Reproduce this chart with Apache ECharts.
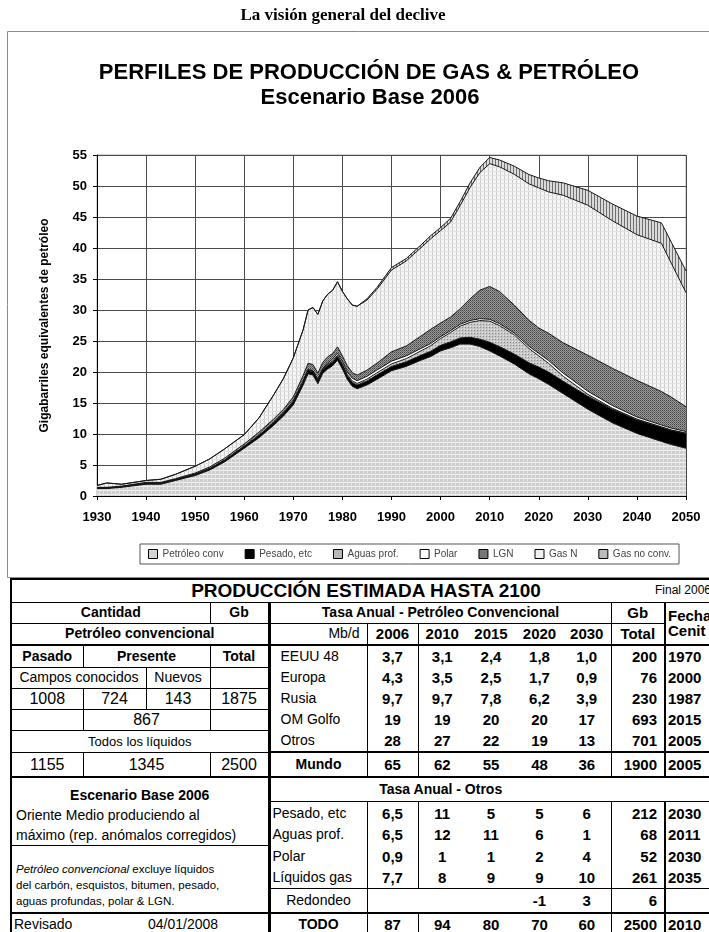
<!DOCTYPE html>
<html>
<head>
<meta charset="utf-8">
<script src="https://cdn.jsdelivr.net/npm/echarts@6/dist/echarts.min.js"></script>
<style>
  html, body { margin: 0; padding: 0; width: 709px; height: 932px; overflow: hidden; background: #fff; }
  #chart { position: absolute; left: 0; top: 0; width: 709px; height: 932px; }
  #tabla {
    position: absolute; left: 10px; top: 578px; width: 710px;
    border-collapse: collapse; table-layout: fixed; border: 2px solid #000;
    font-family: 'Liberation Sans', Arial, sans-serif; font-size: 14px; color: #000;
    background: #fff;
  }
  #tabla td { padding: 0 2px; white-space: nowrap; overflow: hidden; line-height: 15px; vertical-align: middle; }
  #final { position: absolute; left: 655px; top: 583px; white-space: nowrap; font: 12px 'Liberation Sans', Arial, sans-serif; }
  .b { font-weight: bold; }
  .c { text-align: center; }
  .r { text-align: right; padding-right: 7px !important; }
  .l { text-align: left; }
  .pl { padding-left: 10px !important; }
  .n { font-size: 16px; }
  .v { font-size: 15px; }
  .tt { font-size: 19px; }
  .sm { font-size: 13px; }
  .bl1 { border-left: 1px solid #000; }
  .bl2 { border-left: 2px solid #000; }
  .bl3 { border-left: 3px solid #000; }
  .bt1 { border-top: 1px solid #000; }
  .bt2 { border-top: 2px solid #000; }
  .bb1 { border-bottom: 1px solid #000; }
  .bb2 { border-bottom: 2px solid #000; }
  .box { vertical-align: top !important; white-space: normal !important; padding: 7px 4px 0 4px !important; line-height: 20px !important; }
  .nota { vertical-align: bottom !important; white-space: normal !important; font-size: 11.5px; line-height: 16px !important; padding: 0 4px 3px 4px !important; }
</style>
</head>
<body>
<div id="chart"></div>
<table id="tabla"></table>
<div id="final">Final 2006</div>
<script>
// años y series (Gb equivalentes por año)
const years = [1930,1932,1935,1940,1943,1946,1950,1953,1956,1960,1963,1966,1968,1970,1972,1973,1974,1975,1976,1977,1978,1979,1980,1981,1982,1983,1985,1987,1990,1993,1996,1998,2000,2002,2004,2006,2008,2010,2012,2015,2018,2020,2022,2025,2030,2035,2040,2045,2047,2050];
const convOil = [1.2,1.2,1.4,1.9,1.9,2.5,3.3,4.2,5.5,7.7, 9.4,11.4,12.9,14.7,17.9,19.7,19.5,18.1,19.8,20.5, 21.0,21.9,20.5,18.8,17.7,17.3,17.9,18.8,20.2,20.9, 21.9,22.5,23.4,23.9,24.5,24.5,24.1,23.4,22.6,21.3, 19.7,18.9,18.0,16.5,14.0,11.8,10.1,8.8,8.3,7.7];
const heavy = [0.1,0.1,0.1,0.15,0.15,0.15,0.2,0.2,0.25,0.3, 0.35,0.4,0.45,0.5,0.5,0.55,0.55,0.55,0.55,0.6, 0.6,0.6,0.6,0.6,0.6,0.6,0.65,0.7,0.7,0.75, 0.8,0.85,0.9,0.95,1.0,1.1,1.2,1.4,1.5,1.6, 1.8,1.9,2.0,2.0,2.1,2.2,2.2,2.3,2.3,2.4];
const deepWater = [0,0,0,0,0,0,0,0,0,0, 0,0.02,0.03,0.05,0.08,0.1,0.1,0.1,0.12,0.15, 0.18,0.2,0.2,0.2,0.25,0.25,0.3,0.35,0.4,0.5, 0.7,0.9,1.1,1.5,1.9,2.4,3.0,3.4,3.4,3.1, 2.3,1.8,1.4,0.8,0.3,0.15,0.1,0.05,0.05,0.05];
const polar = [0,0,0,0,0,0,0,0,0,0, 0,0,0,0.05,0.05,0.05,0.05,0.05,0.1,0.2, 0.3,0.35,0.4,0.4,0.45,0.45,0.45,0.45,0.45,0.45, 0.4,0.35,0.3,0.3,0.3,0.3,0.3,0.3,0.3,0.3, 0.35,0.4,0.45,0.5,0.5,0.45,0.35,0.3,0.3,0.25];
const ngl = [0.1,0.1,0.1,0.15,0.15,0.15,0.2,0.3,0.35,0.4, 0.55,0.6,0.6,0.7,0.9,1.0,1.0,1.0,1.0,1.0, 0.9,1.0,0.9,1.0,0.9,0.9,1.0,1.1,1.5,1.6, 2.0,2.3,2.2,2.2,2.5,3.5,4.6,5.3,5.2,4.5, 4.2,4.1,4.4,4.9,5.8,6.0,5.9,5.4,5.0,4.0];
const gasN = [0.3,0.7,0.3,0.3,0.5,0.7,1.1,1.3,1.5,1.5, 2.3,3.9,5.0,6.3,7.4,8.6,9.2,9.5,9.9,10.1, 10.2,10.5,10.4,10.8,10.9,11.1,11.3,11.9,13.2,13.7, 14.25,14.6,14.9,15.3,16.65,17.95,18.95,19.8,20.1,21.1, 22.0,22.6,22.8,23.8,24.2,23.8,23.5,23.9,21.6,18.4];
const gasNoConv = [0,0,0,0,0,0,0,0,0,0, 0,0,0,0,0,0,0,0,0,0, 0,0,0,0,0,0,0.2,0.3,0.4,0.4, 0.45,0.5,0.5,0.6,0.65,0.75,0.85,1.0,1.1,1.3, 1.5,1.6,1.8,2.0,2.4,2.7,3.0,3.3,3.4,3.5];
const seriesNames = ['Petróleo conv', 'Pesado, etc', 'Aguas prof.', 'Polar', 'LGN', 'Gas N', 'Gas no conv.'];

// tabla: producción estimada hasta 2100
const rateYears = ['2006', '2010', '2015', '2020', '2030'];
const regions = ['EEUU 48', 'Europa', 'Rusia', 'OM Golfo', 'Otros'];
const regionRates = [
  ['3,7', '3,1', '2,4', '1,8', '1,0'],
  ['4,3', '3,5', '2,5', '1,7', '0,9'],
  ['9,7', '9,7', '7,8', '6,2', '3,9'],
  ['19', '19', '20', '20', '17'],
  ['28', '27', '22', '19', '13']
];
const regionTotals = ['200', '76', '230', '693', '701'];
const regionPeaks = ['1970', '2000', '1987', '2015', '2005'];
const worldRates = ['65', '62', '55', '48', '36'];
const worldTotal = '1900', worldPeak = '2005';
const others = ['Pesado, etc', 'Aguas prof.', 'Polar', 'Líquidos gas'];
const otherRates = [
  ['6,5', '11', '5', '5', '6'],
  ['6,5', '12', '11', '6', '1'],
  ['0,9', '1', '1', '2', '4'],
  ['7,7', '8', '9', '9', '10']
];
const otherTotals = ['212', '68', '52', '261'];
const otherPeaks = ['2030', '2011', '2030', '2035'];
const roundRates = ['', '', '', '-1', '3'];
const roundTotal = '6';
const allRates = ['87', '94', '80', '70', '60'];
const allTotal = '2500', allPeak = '2010';
const convPast = '1008', convKnown = '724', convNew = '143', convTotal = '1875', convYet = '867';
const liqPast = '1155', liqPresent = '1345', liqTotal = '2500';

// --- tabla ---
function td(txt, cls, cs, rs) {
  return '<td class="' + (cls || '') + '"' + (cs ? ' colspan="' + cs + '"' : '') + (rs ? ' rowspan="' + rs + '"' : '') + '>' + txt + '</td>';
}
function rateCells(r, extra) {
  extra = extra || '';
  return td(r[0], 'c b v bl1 ' + extra) + r.slice(1).map((v, j) => td(v, 'c b v ' + (j === 0 ? 'bl1 ' : '') + extra)).join('');
}
const widths = [72, 63, 64, 59, 98, 51, 48, 50, 47, 48, 54, 56];
let h = '<colgroup>' + widths.map(w => '<col style="width:' + w + 'px">').join('') + '</colgroup>';
h += '<tr style="height:23px">' + td('PRODUCCIÓN ESTIMADA HASTA 2100', 'c b tt bb1', 12) + '</tr>';
h += '<tr style="height:21px">' + td('Cantidad', 'c b bb1', 3) + td('Gb', 'c b bb1 bl1') +
  td('Tasa Anual - Petróleo Convencional', 'c b bb1 bl3', 6) + td('Gb', 'c b v bb1 bl1') +
  td('Fecha<br>Cenit', 'l b v bl2 bb2', 0, 2) + '</tr>';
h += '<tr style="height:22px">' + td('Petróleo convencional', 'c b bb2', 4) + td('Mb/d', 'r bb2 bl3') +
  rateYears.map((y, j) => td(y, 'c b v bb2' + (j < 2 ? ' bl1' : ''))).join('') + td('Total', 'c b v bb2 bl1') + '</tr>';
const leftRows = [
  td('Pasado', 'c b bb1') + td('Presente', 'c b bb1 bl1', 2) + td('Total', 'c b bb1 bl1'),
  td('Campos conocidos', 'r bb1', 2) + td('Nuevos', 'c bb1 bl1') + td('', 'bb1 bl1'),
  td(convPast, 'c n bb1') + td(convKnown, 'c n bb1 bl1') + td(convNew, 'c n bb1 bl1') + td(convTotal, 'c n bb1 bl1'),
  td('', 'bb1') + td(convYet, 'c n bb1 bl1', 2) + td('', 'bb1 bl1'),
  td('Todos los líquidos', 'c sm bb1', 4)
];
const rowH = [22, 21, 21, 21, 22];
regions.forEach((name, i) => {
  h += '<tr style="height:' + rowH[i] + 'px">' + leftRows[i] + td(name, 'l pl bl3') + rateCells(regionRates[i]) +
    td(regionTotals[i], 'r b v bl1') + td(regionPeaks[i], 'l b v bl2') + '</tr>';
});
h += '<tr style="height:25px">' + td(liqPast, 'c n bb2') + td(liqPresent, 'c n bl1 bb2', 2) + td(liqTotal, 'c n bl1 bb2') +
  td('Mundo', 'c b bl3 bt2 bb2') + rateCells(worldRates, 'bt2 bb2') + td(worldTotal, 'r b v bl1 bt2 bb2') + td(worldPeak, 'l b v bl2 bt2 bb2') + '</tr>';
h += '<tr style="height:24px">' +
  td('<div class="c b">Escenario Base 2006</div>Oriente Medio produciendo al<br>máximo (rep. anómalos corregidos)', 'box', 4, 3) +
  td('Tasa Anual - Otros', 'c b bl3 bb1', 6) + td('', 'bb1', 2) + '</tr>';
const otherH = [21, 21, 21, 22];
others.forEach((name, i) => {
  let left = '';
  if (i === 2) left = td('<i>Petróleo convencional</i> excluye líquidos<br>del carbón, esquistos, bitumen, pesado,<br>aguas profundas, polar &amp; LGN.', 'nota bt1', 4, 3);
  h += '<tr style="height:' + otherH[i] + 'px">' + left + td(name, 'l bl3') + rateCells(otherRates[i]) +
    td(otherTotals[i], 'r b v bl1') + td(otherPeaks[i], 'l b v bl2') + '</tr>';
});
h += '<tr style="height:24px">' + td('Redondeo', 'c bl3 bt1 bb2') +
  roundRates.map((v, j) => td(v, 'c b v bt1 bb2' + (j === 0 ? ' bl1' : ''))).join('') +
  td(roundTotal, 'r b v bl1 bt1 bb2') + td('', 'bl2 bt1 bb2') + '</tr>';
h += '<tr style="height:24px">' + td('Revisado', 'l bt2', 2) + td('04/01/2008', 'l bt2', 2) +
  td('TODO', 'c b bl3 bt2') + rateCells(allRates, 'bt2') + td(allTotal, 'r b v bl1 bt2') + td(allPeak, 'l b v bl2 bt2') + '</tr>';
document.getElementById('tabla').innerHTML = h;

// --- texturas de relleno ---
function pattern(w, hh, bg, marks) {
  const c = document.createElement('canvas');
  c.width = w; c.height = hh;
  const g = c.getContext('2d');
  g.fillStyle = bg; g.fillRect(0, 0, w, hh);
  marks.forEach(m => { g.fillStyle = m[4]; g.fillRect(m[0], m[1], m[2], m[3]); });
  return { image: c, repeat: 'repeat' };
}
const fills = [
  pattern(4, 4, '#cdcdcd', [[0, 2, 4, 1, '#f2f2f2'], [3, 0, 1, 4, '#e4e4e4']]),
  '#000000',
  pattern(3, 3, '#c6c6c6', [[0, 0, 1, 1, '#8a8a8a'], [2, 2, 1, 1, '#e8e8e8']]),
  '#ffffff',
  pattern(2, 2, '#9a9a9a', [[0, 0, 1, 1, '#444444'], [1, 1, 1, 1, '#6a6a6a']]),
  pattern(4, 4, '#f5f5f5', [[0, 0, 1, 4, '#cccccc'], [0, 3, 4, 1, '#e2e2e2']]),
  pattern(3, 3, '#dadada', [[0, 0, 1, 3, '#707070']])
];
const iconColors = ['#d4d4d4', '#000000', '#b8b8b8', '#ffffff', '#777777', '#f0f0f0', '#bbbbbb'];
const values = [convOil, heavy, deepWater, polar, ngl, gasN, gasNoConv];

const F = "'Liberation Sans', Arial, sans-serif";
const chart = echarts.init(document.getElementById('chart'), null, { renderer: 'canvas' });
const option = {
  animation: false,
  graphic: [
    { type: 'rect', z: -10, shape: { x: 7.5, y: 31.5, width: 720, height: 546 }, style: { fill: 'none', stroke: '#8c8c8c', lineWidth: 1 } },
    { type: 'text', x: 343, y: 16, style: { text: 'La visión general del declive', font: "bold 17px 'Liberation Serif', 'Times New Roman', serif", textAlign: 'center', textVerticalAlign: 'middle', align: 'center', verticalAlign: 'middle', fill: '#000' } },
    { type: 'text', x: 369, y: 73, style: { text: 'PERFILES DE PRODUCCIÓN DE GAS & PETRÓLEO', font: "bold 22px 'Liberation Sans', Arial, sans-serif", textAlign: 'center', textVerticalAlign: 'middle', align: 'center', verticalAlign: 'middle', fill: '#000' } },
    { type: 'text', x: 370, y: 98, style: { text: 'Escenario Base 2006', font: "bold 22px 'Liberation Sans', Arial, sans-serif", textAlign: 'center', textVerticalAlign: 'middle', align: 'center', verticalAlign: 'middle', fill: '#000' } }
  ],
  grid: { left: 97, right: 23, top: 155, bottom: 436, show: true, borderColor: '#aaaaaa', borderWidth: 1 },
  legend: {
    left: 140, top: 544, padding: [5, 8], itemGap: 21, itemWidth: 9, itemHeight: 9, icon: 'rect',
    backgroundColor: '#fff', borderColor: '#555', borderWidth: 1,
    itemStyle: { borderColor: '#000', borderWidth: 1 },
    textStyle: { fontSize: 10, color: '#444', fontFamily: F },
    data: seriesNames
  },
  xAxis: {
    type: 'value', min: 1930, max: 2050, interval: 10,
    axisLine: { show: true, lineStyle: { color: '#000', width: 1 } },
    axisTick: { show: true, length: 4, lineStyle: { color: '#000' } },
    axisLabel: { color: '#000', fontWeight: 'bold', fontSize: 13, fontFamily: F, margin: 15, formatter: v => String(v) },
    splitLine: { show: true, lineStyle: { color: '#4a4a4a', width: 1 } }
  },
  yAxis: {
    type: 'value', min: 0, max: 55, interval: 5,
    name: 'Gigabarriles equivalentes de petróleo', nameLocation: 'middle', nameGap: 46,
    nameTextStyle: { fontSize: 12, fontWeight: 'bold', fontFamily: F, color: '#000' },
    axisLine: { show: true, lineStyle: { color: '#000', width: 1 } },
    axisTick: { show: true, length: 4, lineStyle: { color: '#000' } },
    axisLabel: { color: '#000', fontWeight: 'bold', fontSize: 13, fontFamily: F, margin: 10 },
    splitLine: { show: true, lineStyle: { color: '#4a4a4a', width: 1 } }
  },
  // valor en la dimensión 0 (la que se apila), año en la dimensión 1
  series: seriesNames.map((name, k) => ({
    name: name, type: 'line', stack: 'total', symbol: 'none', showSymbol: false,
    data: years.map((y, i) => [values[k][i], y]),
    encode: { x: 1, y: 0 },
    lineStyle: { color: '#151515', width: 1 },
    areaStyle: { color: fills[k], opacity: 1 },
    itemStyle: { color: iconColors[k] },
    emphasis: { disabled: true }
  }))
};
chart.setOption(option);
</script>
</body>
</html>
